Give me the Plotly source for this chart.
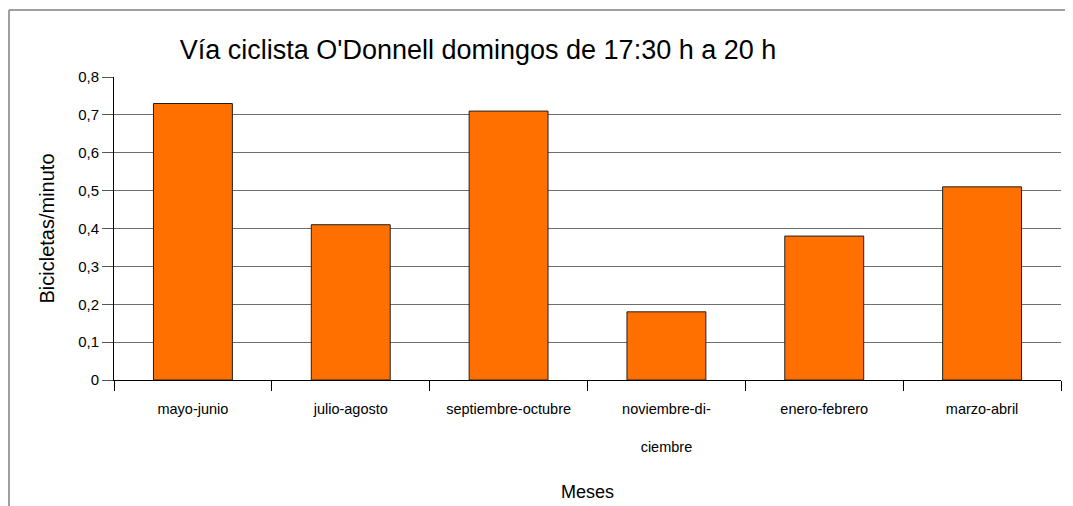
import plotly.graph_objects as go

categorias = ["mayo-junio", "julio-agosto", "septiembre-octubre",
              "noviembre-di-<br><br>ciembre", "enero-febrero", "marzo-abril"]
valores = [0.73, 0.41, 0.71, 0.18, 0.38, 0.51]
titulo = "Vía ciclista O'Donnell domingos de 17:30 h a 20 h"
titulo_y = "Bicicletas/minuto"
titulo_x = "Meses"

OFF = 8  # page offset of the figure inside the browser window
W, H = 1073, 506
L, R = 114 - OFF, 20
T, B = 77 - OFF, H - (380 - OFF)
pw, ph = W - L - R, H - T - B

def px_x(p):
    return (p - OFF - L) / pw

def px_y(p):
    return (H - B - (p - OFF)) / ph

fig = go.Figure(go.Bar(
    x=categorias, y=valores,
    marker=dict(color="#ff7000", line=dict(color="#202020", width=1)),
    width=0.5,
))

fig.update_layout(
    width=W, height=H,
    margin=dict(l=L, r=R, t=T, b=B),
    paper_bgcolor="white", plot_bgcolor="white",
    separators=",.",
    font=dict(family="Liberation Sans", color="#000000"),
    showlegend=False,
    title=dict(text=titulo, xref="container", x=(478 - OFF) / W, xanchor="center",
               yref="container", y=1 - (50 - OFF) / H, yanchor="middle",
               font=dict(size=27, family="Liberation Sans")),
    xaxis=dict(
        showline=True, linecolor="#000000", linewidth=1,
        ticks="outside", tickson="boundaries", ticklen=10, tickcolor="#000000",
        tickfont=dict(size=14.5), ticklabelstandoff=16,
        title=dict(text=titulo_x, font=dict(size=18), standoff=31),
        showgrid=False,
    ),
    yaxis=dict(
        range=[0, 0.8], dtick=0.1, tick0=0,
        showline=True, linecolor="#000000", linewidth=1,
        ticks="outside", ticklen=11, tickcolor="#555555",
        tickfont=dict(size=15),
        showgrid=True, gridcolor="#6e6e6e", gridwidth=1,
        zeroline=False,
        title=dict(text=titulo_y, font=dict(size=20), standoff=18),
    ),
    shapes=[
        dict(type="line", xref="paper", yref="paper",
             x0=px_x(9), x1=px_x(9), y0=px_y(10), y1=px_y(H + 5),
             line=dict(color="#808080", width=1.5)),
        dict(type="line", xref="paper", yref="paper",
             x0=px_x(9), x1=px_x(W + 5), y0=px_y(10), y1=px_y(10),
             line=dict(color="#808080", width=1.5)),
    ],
)

fig.write_html("out.html")
